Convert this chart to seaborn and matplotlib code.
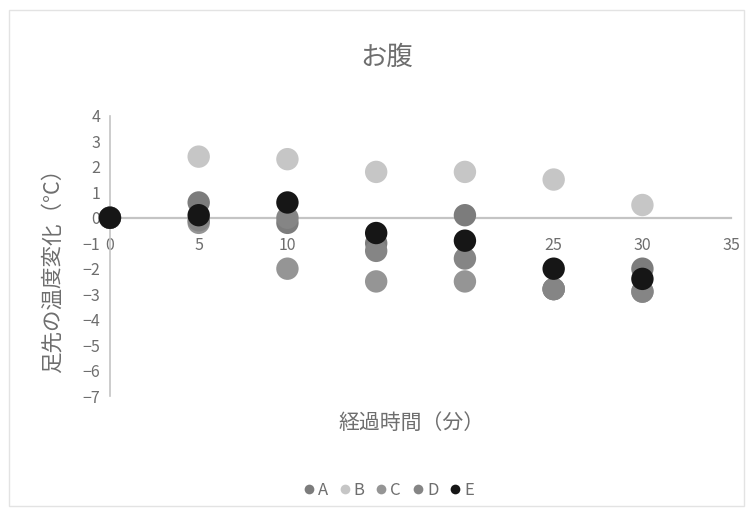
import matplotlib
matplotlib.use("Agg")
import matplotlib.pyplot as plt
from matplotlib.lines import Line2D
from matplotlib.patches import Rectangle
import seaborn as sns
import pandas as pd

# elapsed time (minutes) and temperature change of the toes for each subject
minutes = [0, 5, 10, 15, 20, 25, 30]
series_a = [0, 0.6, -0.2, -1.0, 0.1, -2.8, -2.0]
series_b = [0, 2.4, 2.3, 1.8, 1.8, 1.5, 0.5]
series_c = [0, -0.2, -2.0, -2.5, -2.5, -2.8, -2.9]
series_d = [0, -0.1, 0.0, -1.3, -1.6, -2.8, -2.9]
series_e = [0, 0.1, 0.6, -0.6, -0.9, -2.0, -2.4]
names = ["A", "B", "C", "D", "E"]
colors = ["#7c7c7c", "#c6c6c6", "#959595", "#858585", "#161616"]

rows = []
for name, vals in zip(names, [series_a, series_b, series_c, series_d, series_e]):
    for t, v in zip(minutes, vals):
        rows.append({"time": t, "change": v, "subject": name})
df = pd.DataFrame(rows)

sns.set_style("white")
plt.rcParams["font.family"] = ["Noto Sans CJK JP", "DejaVu Sans"]
text_col = "#6e6e6e"

fig = plt.figure(figsize=(7.53, 5.15), dpi=100)
ax = fig.add_axes([0.146, 0.231, 0.825, 0.544])

sns.scatterplot(data=df, x="time", y="change", hue="subject",
                palette=dict(zip(names, colors)), hue_order=names,
                s=260, edgecolor="none", linewidth=0, legend=False, ax=ax,
                zorder=3, clip_on=False)

ax.set_xlim(0, 35)
ax.set_ylim(-7, 4)
ax.set_xticks(range(0, 36, 5))
ax.set_yticks(range(-7, 5))

for side in ["top", "right"]:
    ax.spines[side].set_visible(False)
ax.spines["bottom"].set_position(("data", 0))
ax.spines["bottom"].set_color("#c4c4c4")
ax.spines["bottom"].set_linewidth(1.6)
ax.spines["left"].set_color("#c4c4c4")
ax.spines["left"].set_linewidth(1.2)
ax.tick_params(axis="both", length=0, labelsize=11.5, labelcolor=text_col)
ax.tick_params(axis="x", pad=14)
ax.tick_params(axis="y", pad=7)

ax.set_xlabel("")
ax.set_ylabel("")
fig.text(0.547, 0.179, "経過時間（分）", ha="center", va="center",
         fontsize=15, color=text_col)
fig.text(0.070, 0.485, "足先の温度変化（°C）", ha="center", va="center",
         rotation=90, fontsize=15.5, color=text_col)
fig.text(0.514, 0.888, "お腹", ha="center", va="center",
         fontsize=19, color=text_col)

handles = [Line2D([], [], marker="o", linestyle="none", markersize=7,
                  markerfacecolor=c, markeredgecolor="none") for c in colors]
fig.legend(handles, names, loc="center", bbox_to_anchor=(0.514, 0.048),
           ncol=5, frameon=False, fontsize=12, handletextpad=0.05,
           columnspacing=0.5, labelcolor=text_col, handlelength=1.0)

fig.patches.append(Rectangle((0.012, 0.018), 0.976, 0.962, transform=fig.transFigure,
                             fill=False, edgecolor="#e3e3e3", linewidth=1))

fig.savefig("out.png", dpi=100, facecolor="white")
